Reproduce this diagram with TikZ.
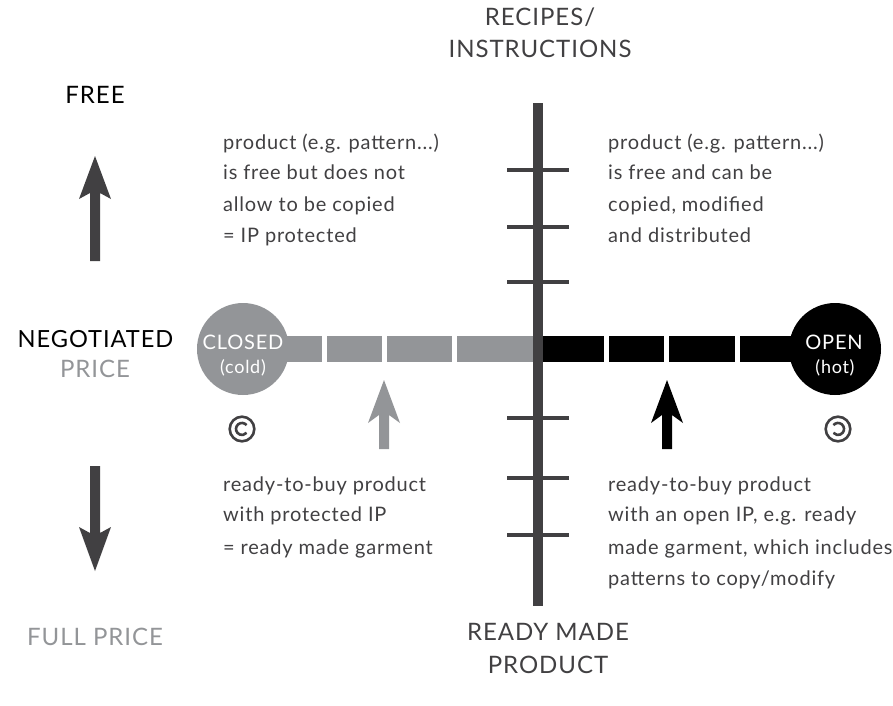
\documentclass[tikz,border=0pt]{standalone}
\usepackage{fontspec}
\setmainfont{Lato}[LetterSpace=4]
\definecolor{axisgray}{HTML}{414042}
\definecolor{closedgray}{HTML}{939598}
\tikzset{
  x=1pt,y=-1pt,
  txt/.style={inner sep=0,anchor=base west,font=\fontsize{20}{20}\selectfont,text=axisgray},
  headk/.style={inner sep=0,anchor=base,font=\fontsize{24}{24}\selectfont,text=black},
  headd/.style={headk,text=axisgray},
  headg/.style={headk,text=closedgray},
  ball/.style={circle,minimum size=92,inner sep=0},
  balltop/.style={inner sep=0,anchor=base,text=white,font=\fontsize{20}{20}\selectfont},
  ballsub/.style={inner sep=0,anchor=base,text=white,font=\fontsize{18}{18}\selectfont},
  symb/.style={axisgray,line width=2.6},
}
\begin{document}
\begin{tikzpicture}
\useasboundingbox (0,0) rectangle (893,705);
% bars
\fill[closedgray] (243,336) rectangle (533,362);
\fill[black] (543,336) rectangle (835,362);
\foreach \a in {322,382,452}{\fill[white] (\a,336) rectangle (\a+5,362);}
\foreach \a in {604,664,735}{\fill[white] (\a,336) rectangle (\a+5,362);}
% axis
\coordinate (axT) at (538,103);
\coordinate (axB) at (538,606);
\draw[axisgray,line width=10] (axT) -- (axB);
\foreach \y in {170,227,282,418,478,535}{
  \coordinate (tl) at (507,\y); \coordinate (tr) at (569,\y);
  \draw[axisgray,line width=4.5] (tl) -- (tr);}
% circles
\node[ball,fill=closedgray] (closed) at (243,349) {};
\node[balltop] (closedA) at (243,349.5) {CLOSED};
\node[ballsub] (closedB) at (243,373) {(cold)};
\node[ball,fill=black] (open) at (835,349) {};
\node[balltop] (openA) at (834,349.5) {OPEN};
\node[ballsub] (openB) at (835,373) {(hot)};
% arrows
\fill[closedgray] (384,380) -- (400,423) -- (389,415) -- (389,449) -- (379,449) -- (379,415) -- (368,423) -- cycle;
\fill[black] (667,380) -- (683,423) -- (672,415) -- (672,449) -- (662,449) -- (662,415) -- (651,423) -- cycle;
\fill[axisgray] (95,156) -- (111,199) -- (100,193) -- (100,261) -- (90,261) -- (90,193) -- (79,199) -- cycle;
\fill[axisgray] (95,571) -- (111,527) -- (100,533) -- (100,466) -- (90,466) -- (90,533) -- (79,527) -- cycle;
% captions
\node[headk] (free) at (95,103) {FREE};
\node[headk,font=\fontsize{23.6}{24}\selectfont] (n1) at (95.5,347) {NEGOTIATED};
\node[headg] (n2) at (95,377) {PRICE};
\node[headg] (full) at (95,645) {FULL PRICE};
\node[headd] (r1) at (540,25) {RECIPES/};
\node[headd] (r2) at (540,57.5) {INSTRUCTIONS};
\node[headd] (m1) at (548,640) {READY MADE};
\node[headd] (m2) at (548,673) {PRODUCT};
% text blocks
\node[txt] (a1) at (223,149.5) {product (e.g. pattern...)};
\node[txt] (a2) at (223,179) {is free but does not};
\node[txt] (a3) at (223,211) {allow to be copied};
\node[txt] (a4) at (223,242) {= IP protected};
\node[txt] (b1) at (608,149.5) {product (e.g. pattern...)};
\node[txt] (b2) at (608,179) {is free and can be};
\node[txt] (b3) at (608,211) {copied, modified};
\node[txt] (b4) at (608,242) {and distributed};
\node[txt] (c1) at (223,491) {ready-to-buy product};
\node[txt] (c2) at (223,521) {with protected IP};
\node[txt] (c3) at (223,554) {= ready made garment};
\node[txt] (d1) at (608,491) {ready-to-buy product};
\node[txt] (d2) at (608,521) {with an open IP, e.g. ready};
\node[txt] (d3) at (608,554) {made garment, which includes};
\node[txt] (d4) at (608,585) {patterns to copy/modify};
% copyright symbols
\draw[symb] (242,429) circle (12.3);
\draw[symb] (246.6,425.1) arc (-40:-320:6);
\draw[symb] (838,429) circle (12.3);
\draw[symb] (833.4,425.1) arc (-140:140:6);
\end{tikzpicture}
\end{document}
